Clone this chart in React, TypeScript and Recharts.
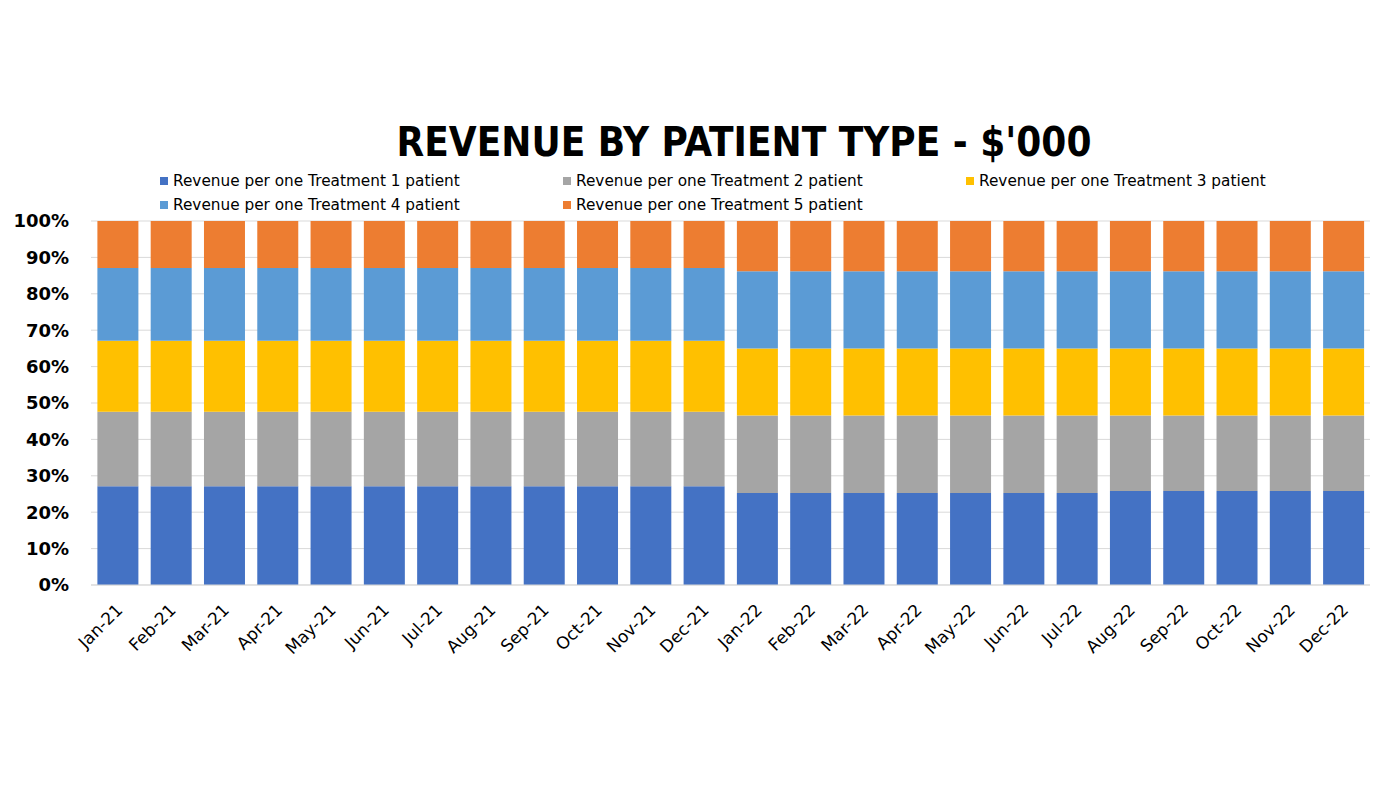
import React from 'react';
import { Bar, BarChart, CartesianGrid, XAxis, YAxis } from 'recharts';

const months = [
  'Jan-21', 'Feb-21', 'Mar-21', 'Apr-21', 'May-21', 'Jun-21', 'Jul-21', 'Aug-21', 'Sep-21', 'Oct-21', 'Nov-21', 'Dec-21',
  'Jan-22', 'Feb-22', 'Mar-22', 'Apr-22', 'May-22', 'Jun-22', 'Jul-22', 'Aug-22', 'Sep-22', 'Oct-22', 'Nov-22', 'Dec-22',
];

// share of revenue, %
const treatment1 = [27.1, 27.1, 27.1, 27.1, 27.1, 27.1, 27.1, 27.1, 27.1, 27.1, 27.1, 27.1, 25.3, 25.3, 25.3, 25.3, 25.3, 25.3, 25.3, 25.8, 25.8, 25.8, 25.8, 25.8];
const treatment2 = [20.5, 20.5, 20.5, 20.5, 20.5, 20.5, 20.5, 20.5, 20.5, 20.5, 20.5, 20.5, 21.3, 21.3, 21.3, 21.3, 21.3, 21.3, 21.3, 20.8, 20.8, 20.8, 20.8, 20.8];
const treatment3 = [19.5, 19.5, 19.5, 19.5, 19.5, 19.5, 19.5, 19.5, 19.5, 19.5, 19.5, 19.5, 18.4, 18.4, 18.4, 18.4, 18.4, 18.4, 18.4, 18.4, 18.4, 18.4, 18.4, 18.4];
const treatment4 = [20.0, 20.0, 20.0, 20.0, 20.0, 20.0, 20.0, 20.0, 20.0, 20.0, 20.0, 20.0, 21.2, 21.2, 21.2, 21.2, 21.2, 21.2, 21.2, 21.2, 21.2, 21.2, 21.2, 21.2];
const treatment5 = [12.9, 12.9, 12.9, 12.9, 12.9, 12.9, 12.9, 12.9, 12.9, 12.9, 12.9, 12.9, 13.8, 13.8, 13.8, 13.8, 13.8, 13.8, 13.8, 13.8, 13.8, 13.8, 13.8, 13.8];

const yTicks = [0, 0.1, 0.2, 0.3, 0.4, 0.5, 0.6, 0.7, 0.8, 0.9, 1];

const series = [
  { key: 't1', name: 'Revenue per one Treatment 1 patient', color: '#4472C4', values: treatment1 },
  { key: 't2', name: 'Revenue per one Treatment 2 patient', color: '#A5A5A5', values: treatment2 },
  { key: 't3', name: 'Revenue per one Treatment 3 patient', color: '#FFC000', values: treatment3 },
  { key: 't4', name: 'Revenue per one Treatment 4 patient', color: '#5B9BD5', values: treatment4 },
  { key: 't5', name: 'Revenue per one Treatment 5 patient', color: '#ED7D31', values: treatment5 },
];

const data = months.map((m, i) => {
  const row: any = { month: m };
  series.forEach((s) => { row[s.key] = s.values[i]; });
  return row;
});

const condensed = '"DejaVu Sans Condensed", "DejaVu Sans", sans-serif';
const sans = '"DejaVu Sans", sans-serif';

const MonthTick = (props: any) => {
  const { x, y, payload } = props;
  const ax = x + 6;
  const ay = y + 18;
  return (
    <text
      x={ax}
      y={ay}
      textAnchor="end"
      fontFamily={sans}
      fontSize={17}
      fill="#000"
      transform={`rotate(-45, ${ax}, ${ay})`}
    >
      {payload.value}
    </text>
  );
};

export default function App() {
  return (
    <div style={{ position: 'absolute', left: 0, top: 0, width: 1396, height: 786, background: '#fff' }}>
      <div
        style={{
          position: 'absolute', left: 92, top: 119, width: 1304, textAlign: 'center',
          fontFamily: condensed, fontWeight: 'bold', fontSize: 40, color: '#000',
        }}
      >
        REVENUE BY PATIENT TYPE - $'000
      </div>
      {series.map((s, i) => (
        <div
          key={s.key}
          style={{
            position: 'absolute', left: 160 + (i % 3) * 403, top: 172 + Math.floor(i / 3) * 24,
            display: 'flex', alignItems: 'center', fontFamily: sans, fontSize: 15.3, color: '#000', whiteSpace: 'nowrap',
          }}
        >
          <span style={{ display: 'inline-block', width: 8, height: 8, background: s.color, marginRight: 5 }} />
          {s.name}
        </div>
      ))}
      <BarChart
        width={1396}
        height={786}
        data={data}
        stackOffset="expand"
        barCategoryGap="12%"
        margin={{ top: 221, right: 26, bottom: 121, left: 0 }}
      >
        <CartesianGrid vertical={false} stroke="#d9d9d9" />
        <XAxis
          dataKey="month"
          height={80}
          interval={0}
          tick={<MonthTick />}
          tickLine={false}
          axisLine={{ stroke: '#d9d9d9' }}
        />
        <YAxis
          width={91}
          domain={[0, 1]}
          ticks={yTicks}
          tickFormatter={(v: number) => `${Math.round(v * 100)}%`}
          tick={{ fontFamily: sans, fontWeight: 'bold', fontSize: 18, fill: '#000' }}
          tickLine={false}
          axisLine={false}
          tickMargin={16}
        />
        {series.map((s) => (
          <Bar key={s.key} dataKey={s.key} name={s.name} stackId="a" fill={s.color} isAnimationActive={false} />
        ))}
      </BarChart>
    </div>
  );
}
